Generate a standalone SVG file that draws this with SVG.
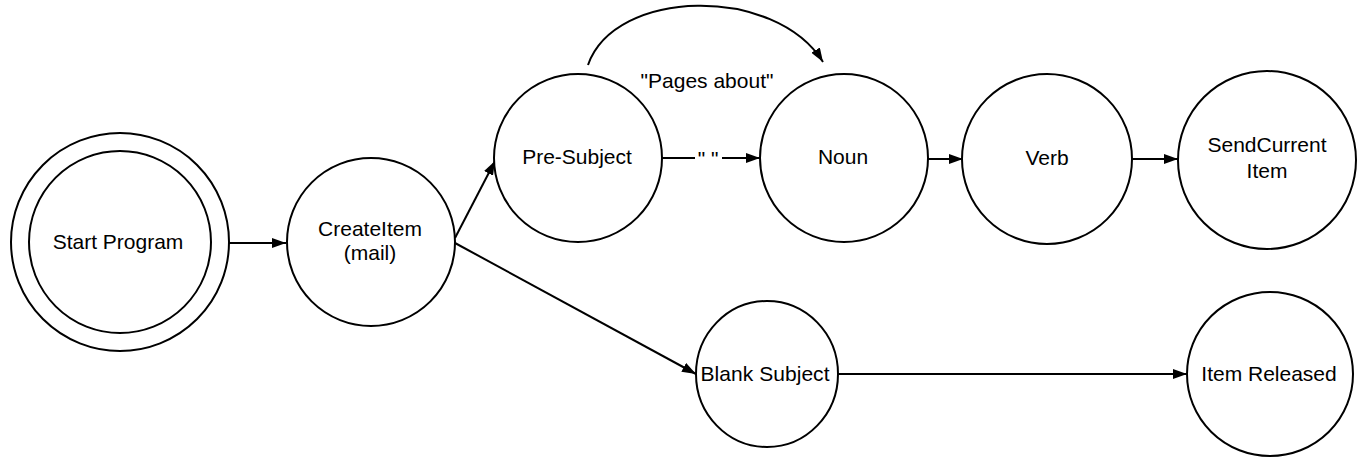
<svg xmlns="http://www.w3.org/2000/svg" width="1366" height="457" viewBox="0 0 1366 457">
<style>
.n{fill:#fff;stroke:#000;stroke-width:2}
.t{font-family:"Liberation Sans",Arial,sans-serif;font-size:21px;fill:#000;text-anchor:middle}
.c{fill:none;stroke:#000;stroke-width:2}
</style>
<defs>
<marker id="ah" markerUnits="userSpaceOnUse" markerWidth="14" markerHeight="10" refX="14" refY="5" orient="auto">
<path d="M0,0 L14,5 L0,10 z" fill="#000"/>
</marker>
</defs>
<rect width="1366" height="457" fill="#fff"/>
<g id="connectors">
<line class="c" x1="229" y1="243" x2="286" y2="243" marker-end="url(#ah)"/>
<line class="c" x1="455" y1="238" x2="495" y2="161" marker-end="url(#ah)"/>
<line class="c" x1="455" y1="243" x2="696" y2="374" marker-end="url(#ah)"/>
<line class="c" x1="661" y1="158" x2="760" y2="158" marker-end="url(#ah)"/>
<rect x="695" y="145" width="27" height="26" fill="#fff"/>
<text class="t" x="708" y="166">" "</text>
<path class="c" d="M588,65 C615,-12 775,-15 823,62" marker-end="url(#ah)"/>
<text class="t" x="707" y="88">"Pages about"</text>
<line class="c" x1="927" y1="159" x2="963" y2="159" marker-end="url(#ah)"/>
<line class="c" x1="1132" y1="159" x2="1178" y2="159" marker-end="url(#ah)"/>
<line class="c" x1="838" y1="374" x2="1187" y2="374" marker-end="url(#ah)"/>
</g>
<g id="start-program">
<circle class="n" cx="120" cy="242" r="109"/>
<circle class="n" cx="120" cy="242" r="91"/>
<text class="t" x="118" y="249">Start Program</text>
</g>
<g id="create-item">
<circle class="n" cx="371" cy="242" r="84"/>
<text class="t" x="370" y="236">CreateItem</text>
<text class="t" x="370" y="260">(mail)</text>
</g>
<g id="pre-subject">
<circle class="n" cx="578" cy="158" r="84"/>
<text class="t" x="577" y="164">Pre-Subject</text>
</g>
<g id="noun">
<circle class="n" cx="844" cy="158" r="84"/>
<text class="t" x="843" y="164">Noun</text>
</g>
<g id="verb">
<circle class="n" cx="1047" cy="159" r="85"/>
<text class="t" x="1047" y="165">Verb</text>
</g>
<g id="send-current-item">
<circle class="n" cx="1267" cy="160" r="89"/>
<text class="t" x="1267" y="152">SendCurrent</text>
<text class="t" x="1267" y="178">Item</text>
</g>
<g id="blank-subject">
<ellipse class="n" cx="767" cy="374" rx="71" ry="73"/>
<text class="t" x="765" y="381" textLength="129">Blank Subject</text>
</g>
<g id="item-released">
<ellipse class="n" cx="1270" cy="374" rx="83" ry="82"/>
<text class="t" x="1269" y="381">Item Released</text>
</g>
</svg>
